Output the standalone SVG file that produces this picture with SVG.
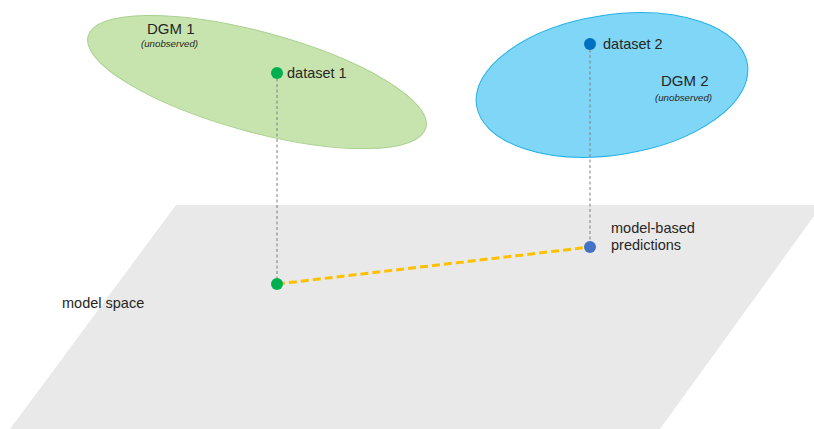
<svg xmlns="http://www.w3.org/2000/svg" width="814" height="429" viewBox="0 0 814 429">
<style>
  text { font-family: "Liberation Sans", Arial, sans-serif; fill: #262626; }
  .lbl { font-size: 14.5px; }
  .big { font-size: 15px; }
  .it { font-size: 9.7px; font-style: italic; }
  .drop { stroke: #7f7f7f; stroke-width: 1; stroke-dasharray: 3 2.5; fill: none; }
  .link { stroke: #FFC000; stroke-width: 3; stroke-dasharray: 8 4; fill: none; }
</style>
<rect width="814" height="429" fill="#ffffff"/>
<g id="model-space">
  <polygon points="176,205 822,205 660,429 10,429" fill="#E9E9E9"/>
  <text class="lbl" x="62" y="308">model space</text>
</g>
<g id="dgm1">
  <ellipse cx="257" cy="82" rx="175" ry="50" transform="rotate(15.2 257 82)" fill="#C8E4AE" stroke="#A9D18E" stroke-width="1"/>
  <text class="big" x="147" y="34">DGM 1</text>
  <text class="it" x="141" y="47">(unobserved)</text>
</g>
<g id="dgm2">
  <ellipse cx="612" cy="85" rx="137" ry="70" transform="rotate(-8.6 612 85)" fill="#7FD6F6" stroke="#1FB0E6" stroke-width="1"/>
  <text class="big" x="661" y="86">DGM 2</text>
  <text class="it" x="655" y="101">(unobserved)</text>
</g>
<g id="connectors">
  <line class="drop" x1="277" y1="73" x2="277" y2="284"/>
  <line class="drop" x1="590" y1="44" x2="590" y2="247"/>
  <line class="link" x1="277" y1="284" x2="590" y2="247"/>
</g>
<g id="dataset1">
  <circle cx="277" cy="73" r="6" fill="#00B050"/>
  <text class="lbl" x="287" y="78">dataset 1</text>
</g>
<g id="dataset2">
  <circle cx="590" cy="44" r="6" fill="#0070C0"/>
  <text class="lbl" x="603" y="49">dataset 2</text>
</g>
<g id="point1">
  <circle cx="277" cy="284" r="6" fill="#00B050"/>
</g>
<g id="predictions">
  <circle cx="590" cy="247" r="6" fill="#4472C4"/>
  <text class="lbl" x="611" y="233">model-based</text>
  <text class="lbl" x="611" y="250">predictions</text>
</g>
</svg>
